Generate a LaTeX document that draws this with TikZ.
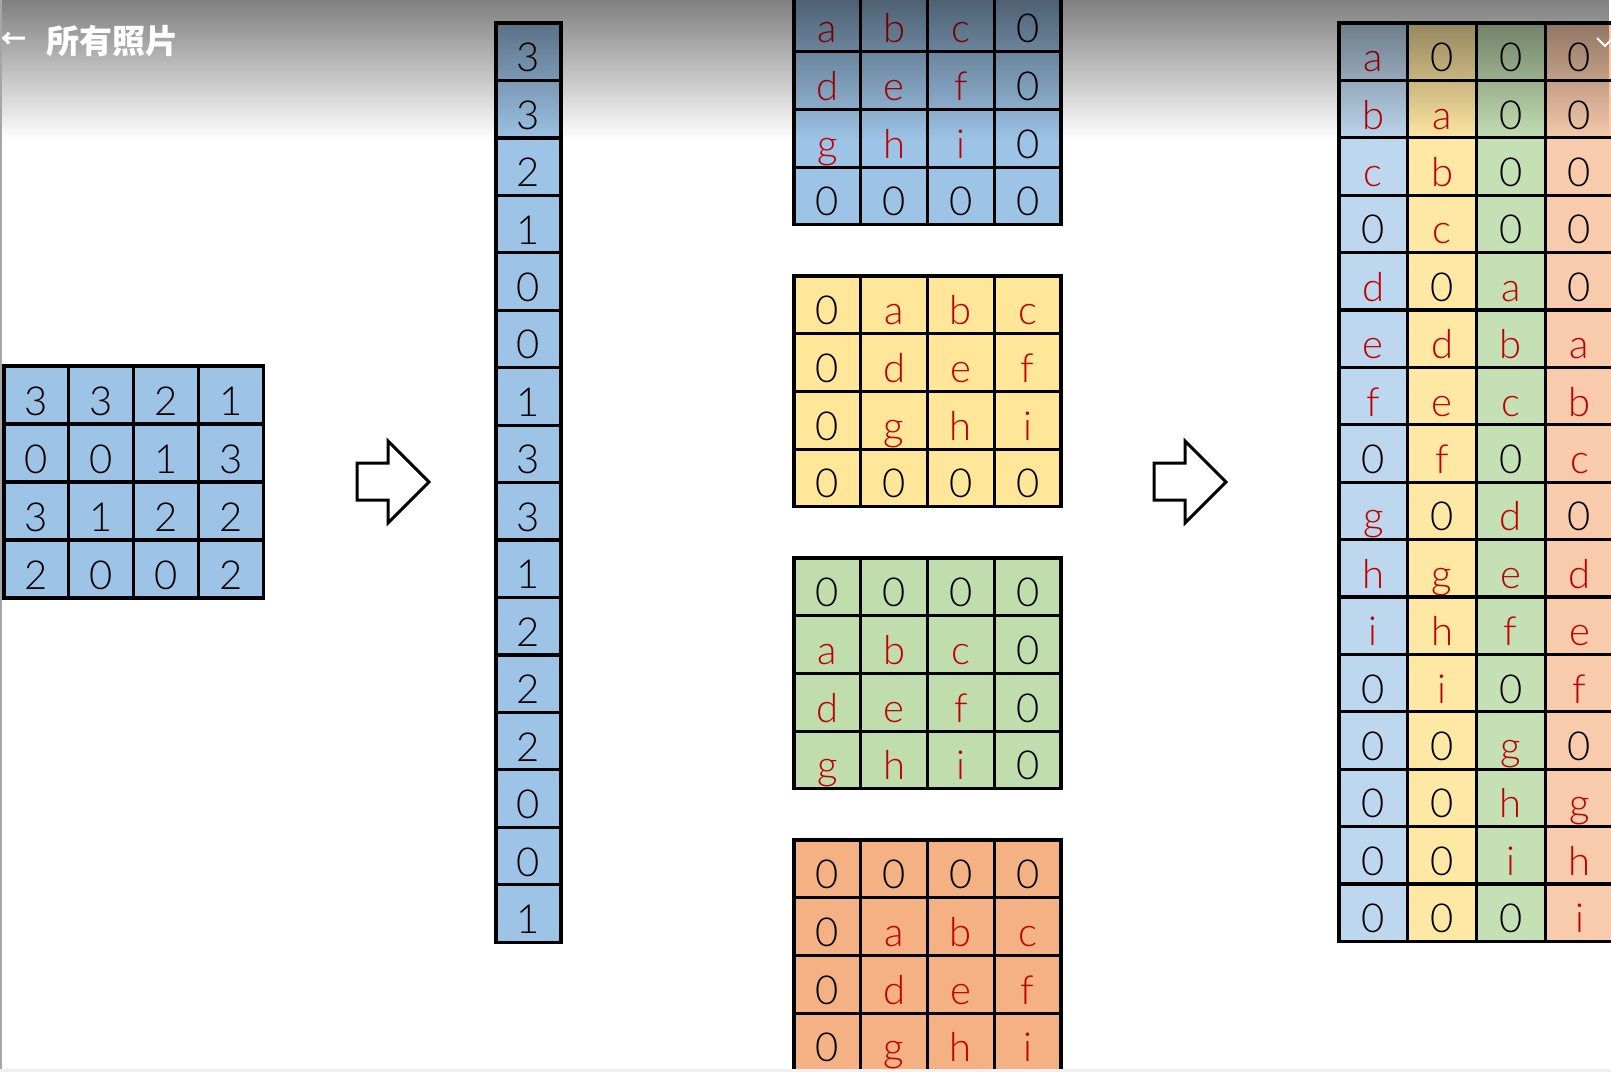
\documentclass[tikz,border=0pt]{standalone}
\usepackage{fontspec}
\setmainfont{Lato Light}
\newfontfamily\cjk{Noto Sans CJK SC}
\usetikzlibrary{fadings}

\definecolor{cellblue}{HTML}{9DC3E6}
\definecolor{paleblue}{HTML}{BDD7EE}
\definecolor{cellyellow}{HTML}{FFE699}
\definecolor{paleyellow}{HTML}{FFE8A3}
\definecolor{cellgreen}{HTML}{C0DDAD}
\definecolor{palegreen}{HTML}{C5E0B4}
\definecolor{cellorange}{HTML}{F4B183}
\definecolor{paleorange}{HTML}{F8CBAD}
\definecolor{letred}{HTML}{C00000}

\tikzfading[name=headerfade, top color=transparent!50, bottom color=transparent!100]

\tikzset{
  cell/.style={draw=black, line width=3.2pt, inner sep=0pt, outer sep=0pt,
    text height=40pt, text depth=0pt, font=\fontsize{40}{40}\selectfont},
  blockarrow/.style={draw=black, line width=3pt, fill=white, line join=miter},
}

% letters in red, digits in black
\newcommand\val[1]{\ifcat a#1\textcolor{letred}{#1}\else#1\fi}

% name, left, top, cell width, cell height, fill, rows
\newcommand\cellgrid[7]{%
  \foreach \row [count=\r] in {#7} {
    \foreach \v [count=\c] in \row {
      \node[cell, fill=#6, minimum width=#4pt, minimum height=#5pt]
        (#1-\r-\c) at ({#2+(\c-0.5)*#4}, {#3+(\r-0.5)*#5}) {\val{\v}};
    }
  }%
}

\begin{document}
\begin{tikzpicture}[x=1pt, y=-1pt]
  \useasboundingbox (0,0) rectangle (1611,1072);
  \fill[white] (0,0) rectangle (1611,1072);

  % input
  \cellgrid{in}{4}{366}{64.8}{58}{cellblue}{{3,3,2,1},{0,0,1,3},{3,1,2,2},{2,0,0,2}}

  % flattened input
  \cellgrid{vec}{496}{23}{65}{57.45}{cellblue}{3,3,2,1,0,0,1,3,3,1,2,2,2,0,0,1}

  % padded kernels
  \cellgrid{kb}{794}{-6}{66.75}{57.7}{cellblue}{{a,b,c,0},{d,e,f,0},{g,h,i,0},{0,0,0,0}}
  \cellgrid{ky}{794}{276}{66.75}{57.7}{cellyellow}{{0,a,b,c},{0,d,e,f},{0,g,h,i},{0,0,0,0}}
  \cellgrid{kg}{794}{558}{66.75}{57.7}{cellgreen}{{0,0,0,0},{a,b,c,0},{d,e,f,0},{g,h,i,0}}
  \cellgrid{ko}{794}{840}{66.75}{57.7}{cellorange}{{0,0,0,0},{0,a,b,c},{0,d,e,f},{0,g,h,i}}

  % kernel matrix
  \cellgrid{m1}{1339}{23}{68.7}{57.4}{paleblue}{a,b,c,0,d,e,f,0,g,h,i,0,0,0,0,0}
  \cellgrid{m2}{1407.7}{23}{68.7}{57.4}{paleyellow}{0,a,b,c,0,d,e,f,0,g,h,i,0,0,0,0}
  \cellgrid{m3}{1476.4}{23}{68.7}{57.4}{palegreen}{0,0,0,0,a,b,c,0,d,e,f,0,g,h,i,0}
  \cellgrid{m4}{1545.1}{23}{68.7}{57.4}{paleorange}{0,0,0,0,0,a,b,c,0,d,e,f,0,g,h,i}

  % arrows
  \foreach \ax in {357,1154}
    \draw[blockarrow] (\ax,463) -- ++(31,0) -- ++(0,-22) -- ++(41,41)
      -- ++(-41,41) -- ++(0,-23) -- ++(-31,0) -- cycle;

  % header
  \fill[black, path fading=headerfade] (0,0) rectangle (1611,140);
  \node[text=white, font=\cjk\bfseries\fontsize{26}{26}\selectfont, anchor=west, inner sep=0pt] (back) at (0,40) {←};
  \node[text=white, font=\cjk\bfseries\fontsize{33}{33}\selectfont, anchor=west, inner sep=0pt] (title) at (46,41) {所有照片};
  \draw[white, line width=2pt] (1597,38) -- (1605,46) -- (1613,38);

  \draw[gray!70, line width=1.5pt] (0.75,0) -- (0.75,1072);
  \fill[gray!12] (0,1069) rectangle (1611,1072);
\end{tikzpicture}
\end{document}
